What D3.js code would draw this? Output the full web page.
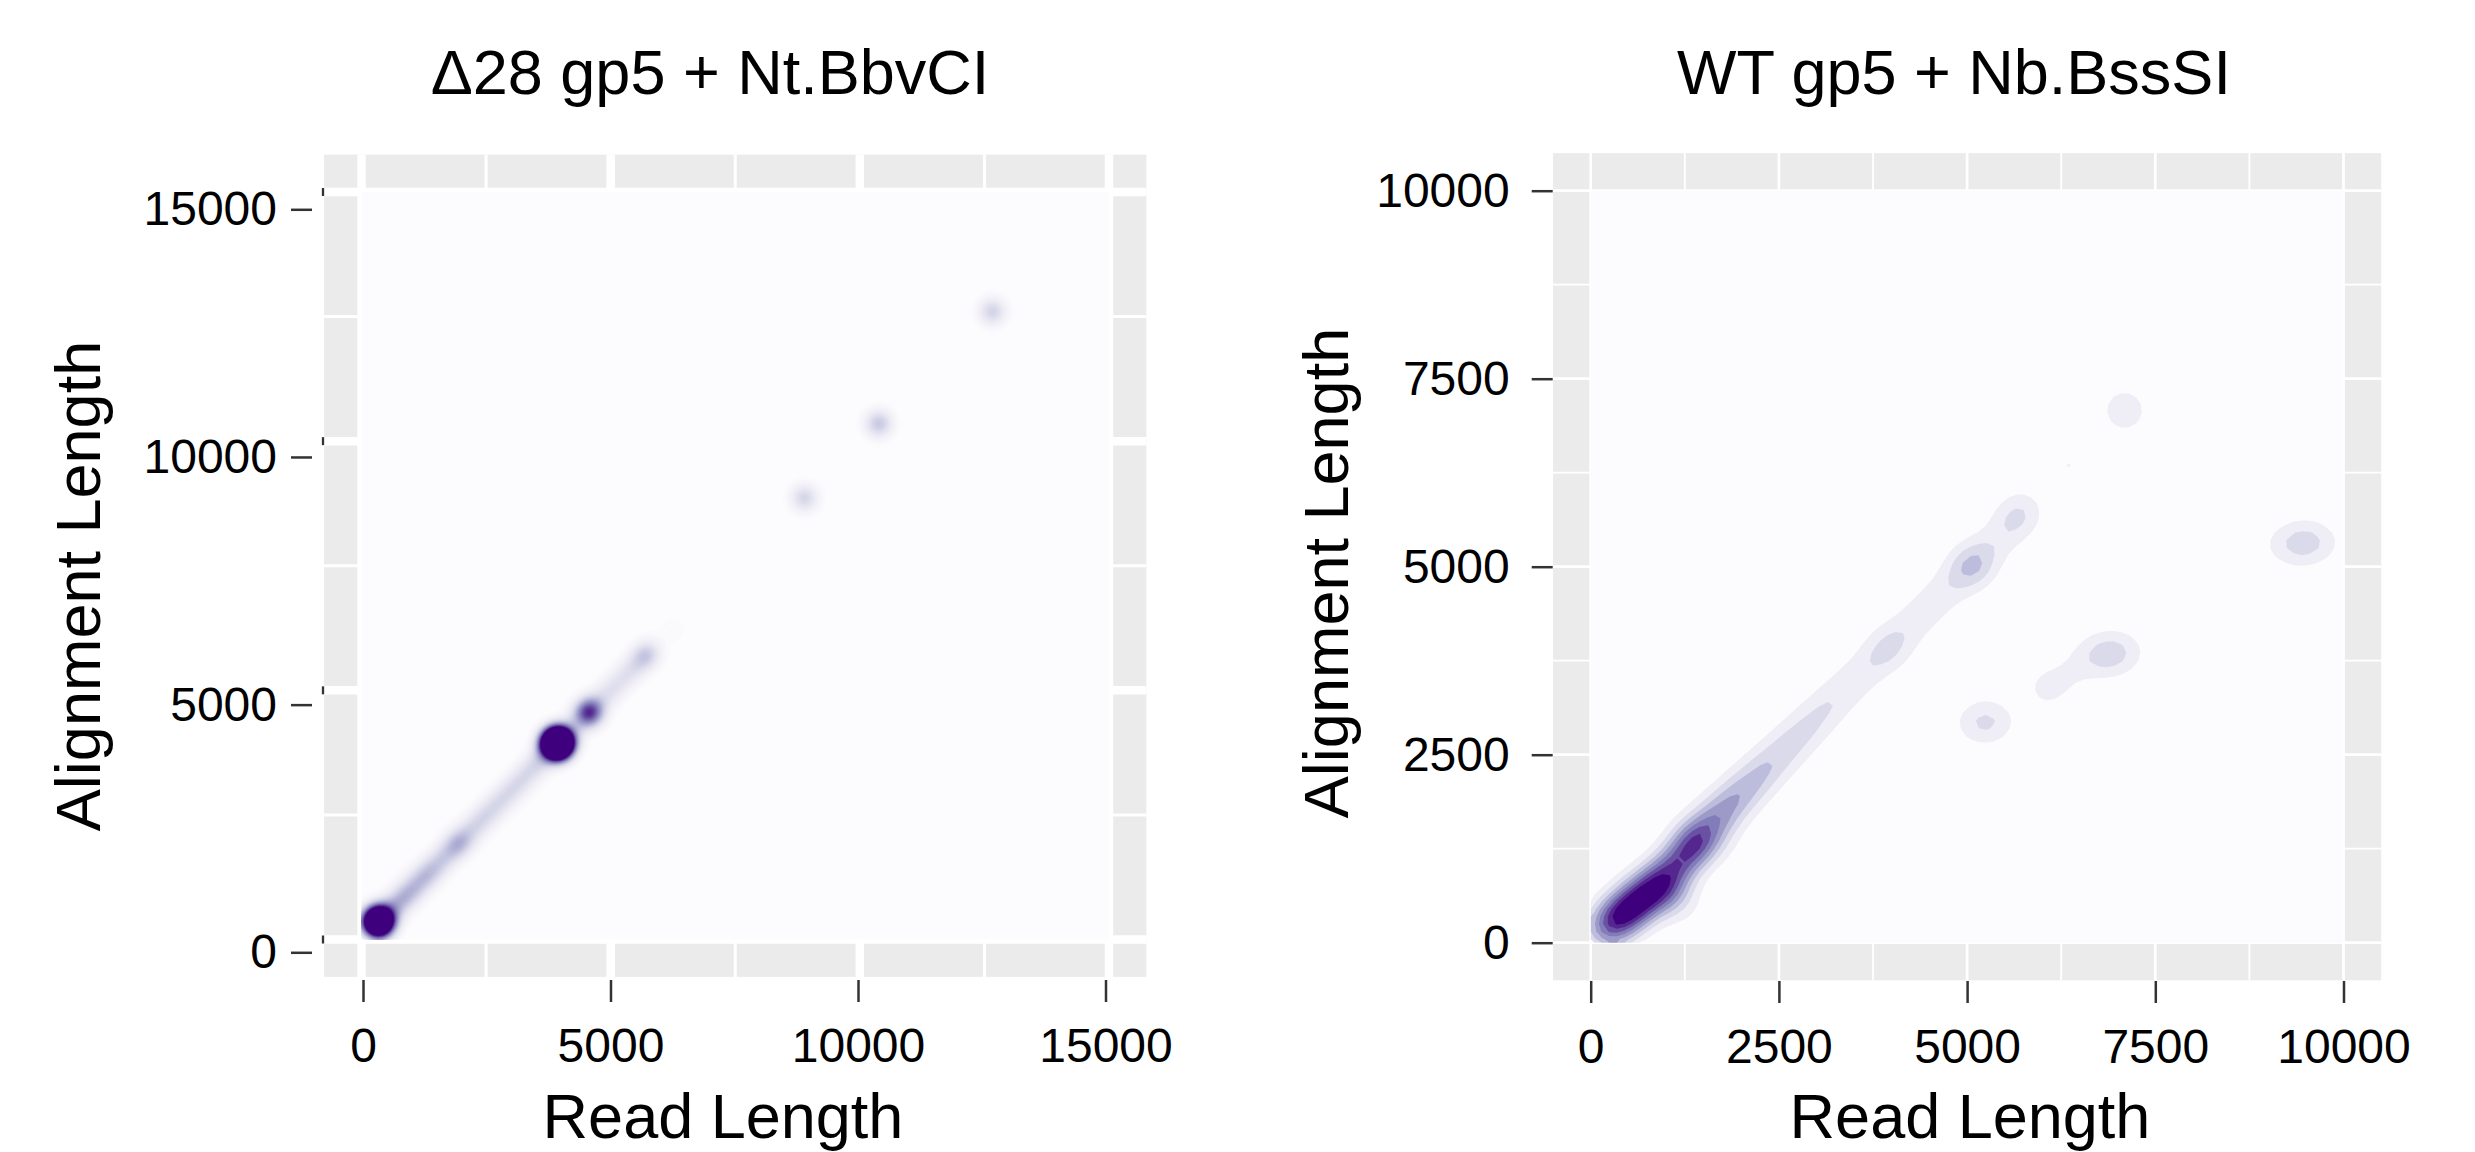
<!DOCTYPE html>
<html>
<head>
<meta charset="utf-8">
<script src="https://cdn.jsdelivr.net/npm/d3@7"></script>
<style>
  body { margin: 0; background: #fff; }
  text { font-family: "Liberation Sans", Arial, Helvetica, sans-serif; fill: #000; }
</style>
</head>
<body>
<svg width="2475" height="1152"></svg>
<script>
  const svg = d3.select('svg');

  // ---- data ----
  const leftTitle = 'Δ28 gp5 + Nt.BbvCI';
  const rightTitle = 'WT gp5 + Nb.BssSI';
  const xAxisLabel = 'Read Length';
  const yAxisLabel = 'Alignment Length';

  const leftTicks = [0, 5000, 10000, 15000];
  const leftMinor = [2500, 7500, 12500];
  const rightTicks = [0, 2500, 5000, 7500, 10000];
  const rightMinor = [1250, 3750, 6250, 8750];

  // [read length, alignment length, weight]
  const leftClusters = [
    [337, 357, 2.75],
    [1960, 1940, 0.15],
    [3930, 3935, 4.1],
    [4560, 4550, 0.8],
    [5690, 5690, 0.25],
    [6240, 6200, 0.04],
    [8890, 8860, 0.27],
    [10380, 10350, 0.33],
    [12660, 12600, 0.28]
  ];
  const leftDiagonal = [
    [500, 510, 0.24], [700, 700, 0.25], [900, 890, 0.27], [1100, 1090, 0.24],
    [1300, 1290, 0.25], [1500, 1480, 0.21], [1700, 1690, 0.2], [1900, 1880, 0.19],
    [2100, 2090, 0.17], [2300, 2290, 0.17], [2500, 2490, 0.17], [2700, 2690, 0.16],
    [2900, 2890, 0.16], [3100, 3090, 0.16], [3300, 3290, 0.16], [3500, 3500, 0.17],
    [3700, 3700, 0.17], [4100, 4100, 0.14], [4300, 4300, 0.14], [4700, 4700, 0.13],
    [4900, 4900, 0.13], [5100, 5090, 0.13], [5300, 5290, 0.13], [5500, 5490, 0.14],
    [5800, 5800, 0.08]
  ];

  const rightCore = [
    [150, 140, 2.0], [300, 270, 3.45], [440, 390, 3.45], [580, 500, 3.45],
    [720, 620, 3.45], [860, 740, 3.3], [1000, 880, 2.8], [1140, 1030, 2.6],
    [1280, 1190, 2.45], [1420, 1350, 2.25], [1390, 1355, 2.2]
  ];
  const rightDiagonal = [
    [1600, 1580, 2.9], [1800, 1790, 2.45], [2000, 1990, 2.07], [2200, 2190, 1.86],
    [2400, 2390, 1.6], [2600, 2590, 1.44], [2800, 2790, 1.33], [3000, 2990, 1.2],
    [3200, 3190, 1.08], [3400, 3390, 0.98], [3600, 3580, 0.93], [3800, 3780, 0.9],
    [4000, 3970, 0.9], [4200, 4170, 0.9], [4400, 4370, 0.9], [4600, 4570, 0.9],
    [4800, 4770, 0.9], [5000, 4960, 0.89], [5200, 5150, 0.88], [5400, 5350, 0.88],
    [5600, 5580, 0.9], [5800, 5800, 0.48]
  ];
  const rightBlobs = [
    [3950, 3910, 0.8], [5067, 5011, 1.8], [5685, 5696, 1.1],
    [1080, 620, 1.2], [1230, 500, 0.7], [1800, 1260, 0.35],
    [5030, 2920, 0.7], [5250, 2935, 1.5], [5470, 2945, 0.6],
    [6050, 3380, 1.2], [6350, 3560, 0.7],
    [6600, 3800, 0.9], [6880, 3840, 2.0], [7150, 3870, 0.9],
    [9150, 5290, 0.9], [9460, 5315, 2.0], [9750, 5330, 0.9],
    [7092, 7078, 1.8], [6350, 6345, 1.03]
  ];

  // ---- layout ----
  const fontSizeTitle = 63;
  const fontSizeTick = 48;
  const purples = d3.schemePurples[9];

  const panels = [
    {
      title: leftTitle, titleX: 710, xTitleX: 723, yTitleX: 100, yTitleY: 586,
      max: 15000, ticks: leftTicks, minor: leftMinor,
      xRange: [361.5, 1109], yRange: [939.5, 192],
      labelX: [363, 1105.5], labelY: [952.3, 209.3],
      xAxisY: 980, yAxisX: 312, yPad: 14,
      major: 8.5, minorW: 3, edgeMarks: true,
      points: leftClusters.concat(leftDiagonal),
      sigma: 9.5, n: 300, smooth: true
    },
    {
      title: rightTitle, titleX: 1954, xTitleX: 1970, yTitleX: 1348, yTitleY: 573,
      max: 10000, ticks: rightTicks, minor: rightMinor,
      xRange: [1590.7, 2343.5], yRange: [942.7, 190.7],
      labelX: [1590.7, 2343.5], labelY: [942.7, 190.7],
      xAxisY: 981, yAxisX: 1552.7, yPad: 22,
      major: 2.7, minorW: 1.8, edgeMarks: false,
      points: rightCore.concat(rightDiagonal, rightBlobs),
      sigma: 16, n: 100, smooth: false
    }
  ];

  // gaussian kernel density on an n x n grid (weights are peak heights)
  function kde(points, n, cw, ch, sigma) {
    const values = new Float64Array(n * n);
    const s2 = 2 * sigma * sigma;
    for (let j = 0; j < n; j++) {
      const py = (j + 0.5) * ch;
      for (let i = 0; i < n; i++) {
        const px = (i + 0.5) * cw;
        let v = 0;
        for (const [x, y, w] of points) {
          const dx = px - x, dy = py - y;
          v += w * Math.exp(-(dx * dx + dy * dy) / s2);
        }
        values[j * n + i] = v;
      }
    }
    return values;
  }

  panels.forEach((p, pi) => {
    const pad = p.max * 0.05;
    const xScale = d3.scaleLinear().domain([0, p.max]).range(p.xRange);
    const yScale = d3.scaleLinear().domain([0, p.max]).range(p.yRange);
    const xLabelScale = d3.scaleLinear().domain([0, p.max]).range(p.labelX);
    const yLabelScale = d3.scaleLinear().domain([0, p.max]).range(p.labelY);

    const g = svg.append('g');

    // panel background
    g.append('rect')
      .attr('x', xScale(-pad)).attr('y', yScale(p.max + pad))
      .attr('width', xScale(p.max + pad) - xScale(-pad))
      .attr('height', yScale(-pad) - yScale(p.max + pad))
      .attr('fill', '#EBEBEB');

    const grid = (vals, w) => {
      g.selectAll(null).data(vals).enter().append('line')
        .attr('x1', d => xScale(d)).attr('x2', d => xScale(d))
        .attr('y1', yScale(-pad)).attr('y2', yScale(p.max + pad))
        .attr('stroke', '#fff').attr('stroke-width', w);
      g.selectAll(null).data(vals).enter().append('line')
        .attr('y1', d => yScale(d)).attr('y2', d => yScale(d))
        .attr('x1', xScale(-pad)).attr('x2', xScale(p.max + pad))
        .attr('stroke', '#fff').attr('stroke-width', w);
    };
    grid(p.minor, p.minorW);
    grid(p.ticks, p.major);

    // density area
    const ox = xScale(0), oy = yScale(p.max);
    const W = xScale(p.max) - ox, H = yScale(0) - oy;
    const clipId = 'clip' + pi;
    svg.append('clipPath').attr('id', clipId)
      .append('rect').attr('width', W).attr('height', H);

    const dg = g.append('g')
      .attr('transform', `translate(${ox},${oy})`)
      .attr('clip-path', `url(#${clipId})`);

    dg.append('rect').attr('width', W).attr('height', H).attr('fill', purples[0]);

    const cw = W / p.n, ch = H / p.n;
    const pts = p.points.map(d => [xScale(d[0]) - ox, yScale(d[1]) - oy, d[2]]);
    const values = kde(pts, p.n, cw, ch, p.sigma);

    const levels = p.smooth ? d3.range(0.02, 1.001, 0.02) : [1, 2, 3, 4, 5, 6, 7, 8];
    const color = p.smooth ? (t => d3.interpolatePurples(t)) : (t => purples[t]);

    const contours = d3.contours().size([p.n, p.n]).thresholds(levels)(values);
    const toPanel = d3.geoTransform({
      point(x, y) { this.stream.point(x * cw, y * ch); }
    });

    dg.selectAll('path')
      .data(contours)
      .enter().append('path')
      .attr('d', d3.geoPath(toPanel))
      .attr('fill', d => color(d.value));

    // axes
    const xAxisG = g.append('g')
      .attr('transform', `translate(0,${p.xAxisY})`)
      .call(d3.axisBottom(xLabelScale).tickValues(p.ticks).tickSize(22).tickPadding(26).tickFormat(d3.format('d')));
    const yAxisG = g.append('g')
      .attr('transform', `translate(${p.yAxisX},0)`)
      .call(d3.axisLeft(yLabelScale).tickValues(p.ticks).tickSize(21).tickPadding(p.yPad).tickFormat(d3.format('d')));

    [xAxisG, yAxisG].forEach(a => {
      a.select('.domain').remove();
      a.attr('font-size', null).attr('font-family', null);
      a.selectAll('line').attr('stroke', '#333').attr('stroke-width', 2.5);
      a.selectAll('text').attr('font-size', fontSizeTick).attr('fill', '#000');
    });

    if (p.edgeMarks) {
      g.selectAll(null).data(p.ticks).enter().append('line')
        .attr('x1', 323).attr('x2', 323)
        .attr('y1', d => yScale(d) - 4).attr('y2', d => yScale(d) + 4)
        .attr('stroke', '#333').attr('stroke-width', 2.3);
    }

    // titles
    g.append('text')
      .attr('x', p.titleX).attr('y', 94)
      .attr('text-anchor', 'middle').attr('font-size', fontSizeTitle)
      .text(p.title);
    g.append('text')
      .attr('x', p.xTitleX).attr('y', 1138)
      .attr('text-anchor', 'middle').attr('font-size', fontSizeTitle)
      .text(xAxisLabel);
    g.append('text')
      .attr('transform', `translate(${p.yTitleX},${p.yTitleY}) rotate(-90)`)
      .attr('text-anchor', 'middle').attr('font-size', fontSizeTitle)
      .text(yAxisLabel);
  });
</script>
</body>
</html>
